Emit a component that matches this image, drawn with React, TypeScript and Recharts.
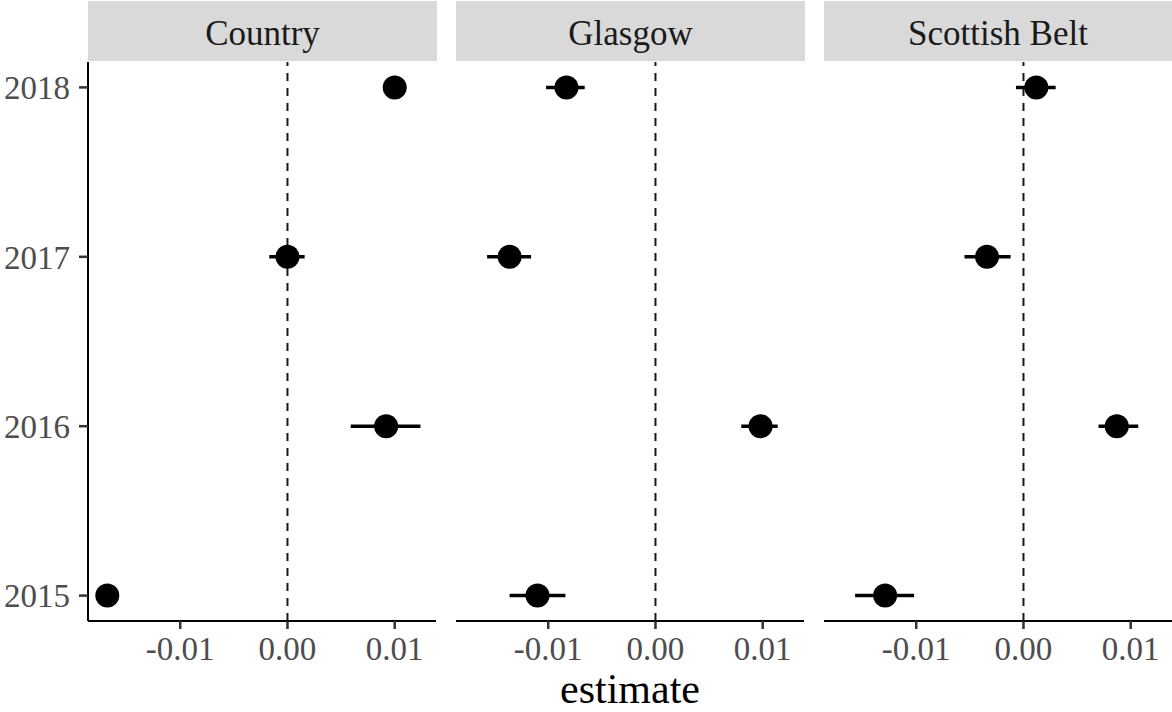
import React from 'react';
import {
  ScatterChart,
  Scatter,
  XAxis,
  YAxis,
  ErrorBar,
  ReferenceLine,
} from 'recharts';

const FONT = '"Liberation Serif", "Times New Roman", serif';

const facets = ['Country', 'Glasgow', 'Scottish Belt'];
const years = [2015, 2016, 2017, 2018];

const countryEst = [-0.0168, 0.0092, 0.0, 0.01];
const countryLow = [-0.0172, 0.0059, -0.0017, 0.0097];
const countryHigh = [-0.0164, 0.0124, 0.0016, 0.0103];

const glasgowEst = [-0.011, 0.0098, -0.0136, -0.0083];
const glasgowLow = [-0.0136, 0.008, -0.0157, -0.0102];
const glasgowHigh = [-0.0084, 0.0114, -0.0116, -0.0066];

const beltEst = [-0.0129, 0.0087, -0.0034, 0.0012];
const beltLow = [-0.0157, 0.007, -0.0055, -0.0007];
const beltHigh = [-0.0102, 0.0107, -0.0012, 0.003];

const xTicks = [-0.01, 0, 0.01];
const xDomain = [-0.0186, 0.01385];
const yDomain = [2014.85, 2018.15];

const build = (est: number[], low: number[], high: number[]) =>
  years.map((year, i) => ({
    year,
    est: est[i],
    err: [est[i] - low[i], high[i] - est[i]],
  }));

const series = [
  build(countryEst, countryLow, countryHigh),
  build(glasgowEst, glasgowLow, glasgowHigh),
  build(beltEst, beltLow, beltHigh),
];

// panel geometry (left edge of the chart box, its width)
const panels = [
  { left: 0, width: 437, yAxis: true },
  { left: 456, width: 348, yAxis: false },
  { left: 824, width: 348, yAxis: false },
];
const strips = [
  { x: 88, w: 349 },
  { x: 456, w: 349 },
  { x: 824, w: 348 },
];

const Dot = (props: any) => <circle cx={props.cx} cy={props.cy} r={12} fill="#000" />;

const tickStyle = { fill: '#4D4D4D', fontSize: 33, fontFamily: FONT };

const Panel = ({ idx }: { idx: number }) => {
  const p = panels[idx];
  return (
    <div style={{ position: 'absolute', left: p.left, top: 0 }}>
      <ScatterChart
        width={p.width}
        height={712}
        margin={{ top: 62, right: p.yAxis ? 1 : 0, bottom: 51, left: 0 }}
      >
        <XAxis
          type="number"
          dataKey="est"
          domain={xDomain}
          allowDataOverflow
          ticks={xTicks}
          interval={0}
          height={40}
          tickFormatter={(v: number) => v.toFixed(2)}
          tick={tickStyle}
          tickSize={8}
          tickMargin={8}
          axisLine={{ stroke: '#000', strokeWidth: 2 }}
          tickLine={{ stroke: '#333', strokeWidth: 2.5 }}
        />
        <YAxis
          type="number"
          dataKey="year"
          domain={yDomain}
          allowDataOverflow
          ticks={years}
          interval={0}
          hide={!p.yAxis}
          width={p.yAxis ? 88 : 0}
          tick={tickStyle}
          tickSize={9}
          tickMargin={9}
          axisLine={{ stroke: '#000', strokeWidth: 2 }}
          tickLine={{ stroke: '#333', strokeWidth: 2.5 }}
        />
        <ReferenceLine x={0} stroke="#1a1a1a" strokeWidth={2} strokeDasharray="8 7" />
        <Scatter data={series[idx]} shape={<Dot />} isAnimationActive={false}>
          <ErrorBar dataKey="err" direction="x" width={0} stroke="#000" strokeWidth={3.5} />
        </Scatter>
      </ScatterChart>
    </div>
  );
};

export default function App() {
  return (
    <div style={{ position: 'absolute', left: 0, top: 0, width: 1172, height: 712, background: '#fff' }}>
      {panels.map((_, i) => (
        <Panel key={i} idx={i} />
      ))}
      <svg
        width={1172}
        height={712}
        style={{ position: 'absolute', left: 0, top: 0, pointerEvents: 'none' }}
      >
        {strips.map((s, i) => (
          <g key={facets[i]}>
            <rect x={s.x} y={1} width={s.w} height={60} fill="#D9D9D9" />
            <text
              x={s.x + s.w / 2}
              y={45}
              textAnchor="middle"
              fontSize={35}
              fontFamily={FONT}
              fill="#1A1A1A"
            >
              {facets[i]}
            </text>
          </g>
        ))}
        <text x={630} y={703} textAnchor="middle" fontSize={42} fontFamily={FONT} fill="#000">
          estimate
        </text>
      </svg>
    </div>
  );
}
